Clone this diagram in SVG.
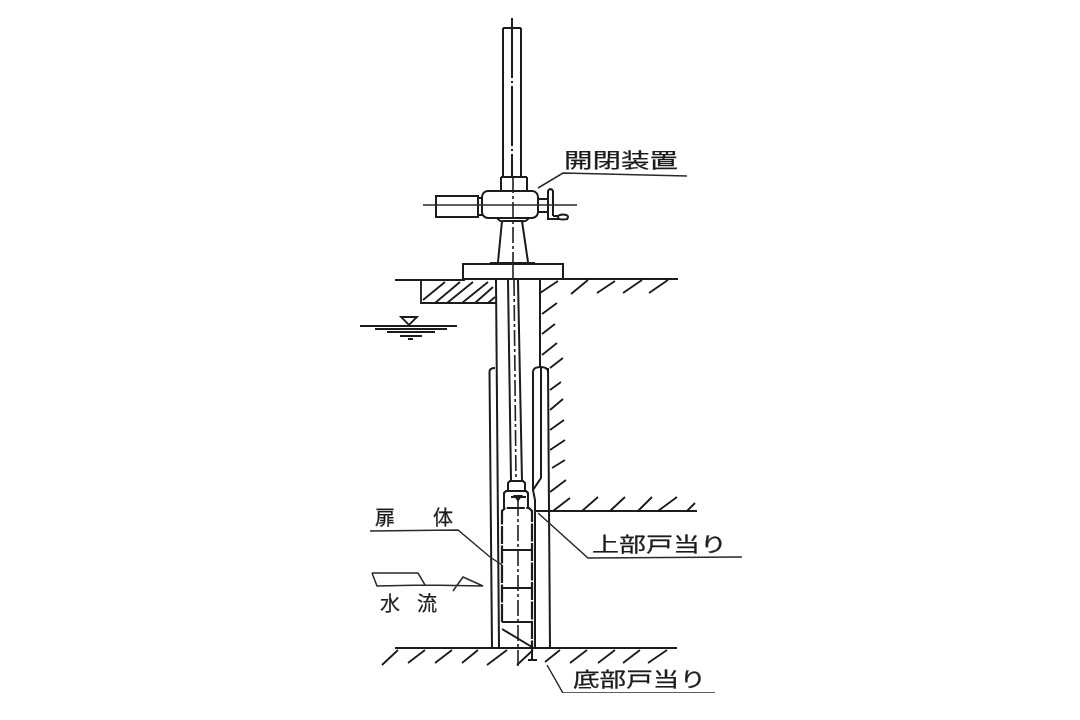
<svg xmlns="http://www.w3.org/2000/svg" width="1080" height="720" viewBox="0 0 1080 720">
<style>
.l{fill:none;stroke:#1a1a1a;stroke-width:2}
.f{fill:#fff;stroke:#1a1a1a;stroke-width:2}
.t{fill:none;stroke:#2a2a2a;stroke-width:1.5}
.h{fill:none;stroke:#1a1a1a;stroke-width:1.8}
.c{fill:none;stroke:#222;stroke-width:1.6;stroke-dasharray:16 3 3 3}
.s{fill:none;stroke:#1a1a1a;stroke-width:2;stroke-dasharray:60 3 2 3}
.d{fill:none;stroke:#1a1a1a;stroke-width:2.2;stroke-dasharray:18 1.5}
text{font-family:"Noto Sans CJK JP","Noto Sans",sans-serif;fill:#1e1e1e;font-size:20px;stroke:#1e1e1e;stroke-width:.25}
</style>
<defs><filter id="scan" x="0" y="0" width="100%" height="100%"><feGaussianBlur stdDeviation="0.4"/></filter></defs>
<rect width="1080" height="720" fill="#fff"/>
<g filter="url(#scan)">
<g id="ground">
<path class="l" d="M395 280H465M563 279H678M535 511H697M395 648H677"/>
<path class="h" d="M421 281V303H496"/>
<path class="h" d="M423 300L445 282M435 303L460 282M447 303L473 282M462 303L488 282M475 303L493 287M488 303L495 297"/>
<path class="h" d="M540 293L558 281M571 294L588 280M597 293L615 281M623 293L642 280M649 293L668 280"/>
<path class="h" d="M542 314L557 303M542 334L555 324M542 355L557 343M550 368L563 358M550 390L561 382M550 410L563 399M550 430L564 420M550 450L565 440M552 468L565 460M550 492L566 480"/>
<path class="h" d="M553 511L570 498M582 511L598 497M610 511L625 497M638 511L652 497M658 511L677 497M687 511L695 503"/>
<path class="h" d="M382 665L398 650M408 663L425 650M435 663L452 650M462 663L478 650M487 665L507 650M517 665L533 650M545 662L560 650M570 663L587 650M598 663L615 650M623 663L640 650M648 663L667 650"/>
</g>
<g id="water">
<path class="h" d="M401 317H417L409 325Z"/>
<path class="h" d="M360 326H457M375 329H447M387 332H435M400 336H422M408 339H413"/>
</g>
<g id="walls">
<path class="l" d="M496 280L499 648M540 280V368M548 368L550 648"/>
<path class="l" d="M489.5 372L492 648M489.5 372Q489.5 368 495 368"/>
<path class="l" d="M533 372V490M533 372Q533 367 540.500 367Q548 367 548 372"/>
<path class="l" d="M541 368V478L533 490L535 500V648"/>
</g>
<g id="gate-stem">
<path class="l" d="M503 28H521M503 28V177M521 28V177M508 280L511 481M518 280L522 481"/>
<path class="s" d="M512 18V177"/>
<path class="c" d="M514 280L516 481"/>
</g>
<g id="operator">
<path class="l" d="M501 177H527M501 177V191M527 177V191"/>
<path class="f" d="M436 196H478V217H436Z"/>
<path class="f" d="M478 198H483V215H478Z"/>
<rect class="f" x="482" y="191" width="56" height="27" rx="6"/>
<path class="l" d="M538 199H548M538 212H548"/>
<path class="l" d="M548 216V191Q550.500 187 553 191V216"/>
<path class="l" d="M548 216V219H568M553 216H558"/>
<ellipse class="f" cx="563" cy="217" rx="5" ry="2.500"/>
<path class="l" d="M497 218Q500 222 504 221H522Q526 222 529 218M502 221L498 262M522 221L528 262"/>
<path class="l" d="M490 263H535"/>
<path class="f" d="M463 264H563V279H463Z"/>
<path class="t" d="M423 205H577"/>
<path class="c" d="M513 177V264M513 264V280"/>
</g>
<g id="door">
<path class="l" d="M508 491V483L510 481H523L525 483V491"/>
<path class="l" d="M504 508V493L506 491H526L528 493V508"/>
<path class="l" d="M515 496H521L518 500ZM511 497H526"/>
<path class="d" d="M502 622V511L505 508H529L532 511V648"/>
<path class="l" d="M502 550H532M502 588H532M502 622H532M502 629L532 647"/>
<path class="c" d="M518 500V667"/>
<path class="l" d="M532 648V660M528 660H537"/>
</g>
<g id="labels">
<text x="564" y="168" font-size="21" textLength="114" lengthAdjust="spacingAndGlyphs">開閉装置</text>
<text x="375" y="525" font-size="23">扉</text><text x="433" y="525" font-size="23">体</text>
<text x="380" y="611" font-size="24">水</text><text x="417" y="611" font-size="24">流</text>
<text x="592" y="552" textLength="135" lengthAdjust="spacingAndGlyphs">上部戸当り</text>
<text x="573" y="687" textLength="133" lengthAdjust="spacingAndGlyphs">底部戸当り</text>
</g>
<g id="connectors">
<path class="t" d="M687 176L563 173L538 188"/>
<path class="t" d="M370 531L458 530L490 557L502 565"/>
<path class="t" d="M372 573H418L425 585L483 586L463 577L453 591M425 585L377 586L372 573"/>
<path class="t" d="M742 557L588 558L538 513"/>
<path class="t" d="M715 693L563 693L547 665"/>
</g>
</g>
</svg>
